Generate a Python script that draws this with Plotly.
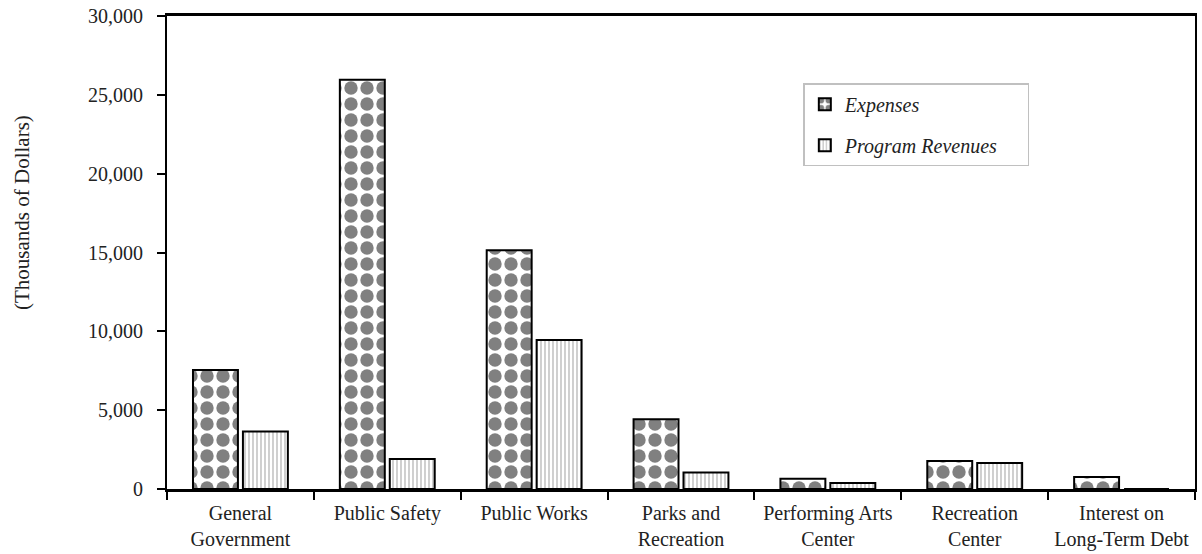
import plotly.graph_objects as go

categories = ["General<br>Government", "Public Safety", "Public Works", "Parks and<br>Recreation",
              "Performing Arts<br>Center", "Recreation<br>Center", "Interest on<br>Long-Term Debt"]
expenses = [7550, 25950, 15150, 4430, 650, 1780, 760]
program_revenues = [3650, 1900, 9450, 1040, 380, 1650, 0]
y_ticks = [0, 5000, 10000, 15000, 20000, 25000, 30000]
legend_names = ["<i>Expenses</i>", "<i>Program Revenues</i>"]

FONT = "Liberation Serif, Times New Roman, serif"
FS = 20
PAD = "&nbsp;" * 5

fig = go.Figure()
fig.add_trace(go.Bar(
    x=categories, y=expenses, name=legend_names[0] + PAD, legendgroup="a",
    marker=dict(color="white", line=dict(color="black", width=2),
                pattern=dict(shape=".", fgcolor="#808080", bgcolor="white",
                             size=16, solidity=0.55, fillmode="replace")),
))
fig.add_trace(go.Bar(
    x=categories, y=program_revenues, name=legend_names[1] + PAD, legendgroup="b",
    marker=dict(color="white", line=dict(color="black", width=2),
                pattern=dict(shape="|", fgcolor="#c4c4c4", bgcolor="white",
                             size=4, solidity=0.4, fillmode="replace")),
))

fig.add_annotation(
    text="(Thousands of Dollars)", textangle=-90, showarrow=False,
    xref="paper", yref="paper", x=(22 - 167) / 1028, y=(489 - 213) / 473,
    xanchor="center", yanchor="middle",
    font=dict(family=FONT, size=21, color="#222"),
)

fig.update_layout(
    width=1202, height=554,
    margin=dict(l=167, r=7, t=16, b=65),
    paper_bgcolor="white", plot_bgcolor="white",
    barmode="group", bargap=0.32, bargroupgap=0.1,
    font=dict(family=FONT, size=FS, color="#222"),
    showlegend=True,
    legend=dict(
        x=0.619, y=0.858, xanchor="left", yanchor="top",
        bordercolor="#c0c0c0", borderwidth=1.5, bgcolor="white",
        font=dict(family=FONT, size=FS, color="#222"),
        traceorder="grouped", tracegroupgap=12,
    ),
    xaxis=dict(
        type="category", showline=True, linecolor="black", linewidth=2.5,
        mirror=True, ticks="outside", tickson="boundaries", ticklen=8,
        tickwidth=1.5, tickcolor="black", showgrid=False, ticklabelstandoff=4,
        automargin=False,
        tickfont=dict(family=FONT, size=FS, color="#222"),
    ),
    yaxis=dict(
        range=[0, 30000], tickvals=y_ticks, tickformat=",",
        showline=True, linecolor="black", linewidth=2, mirror=True,
        ticks="outside", ticklen=8, tickwidth=1.5, tickcolor="black",
        showgrid=False, zeroline=False, ticklabelstandoff=10, automargin=False,
        tickfont=dict(family=FONT, size=FS, color="#222"),
    ),
)

fig.write_html("out.html")
